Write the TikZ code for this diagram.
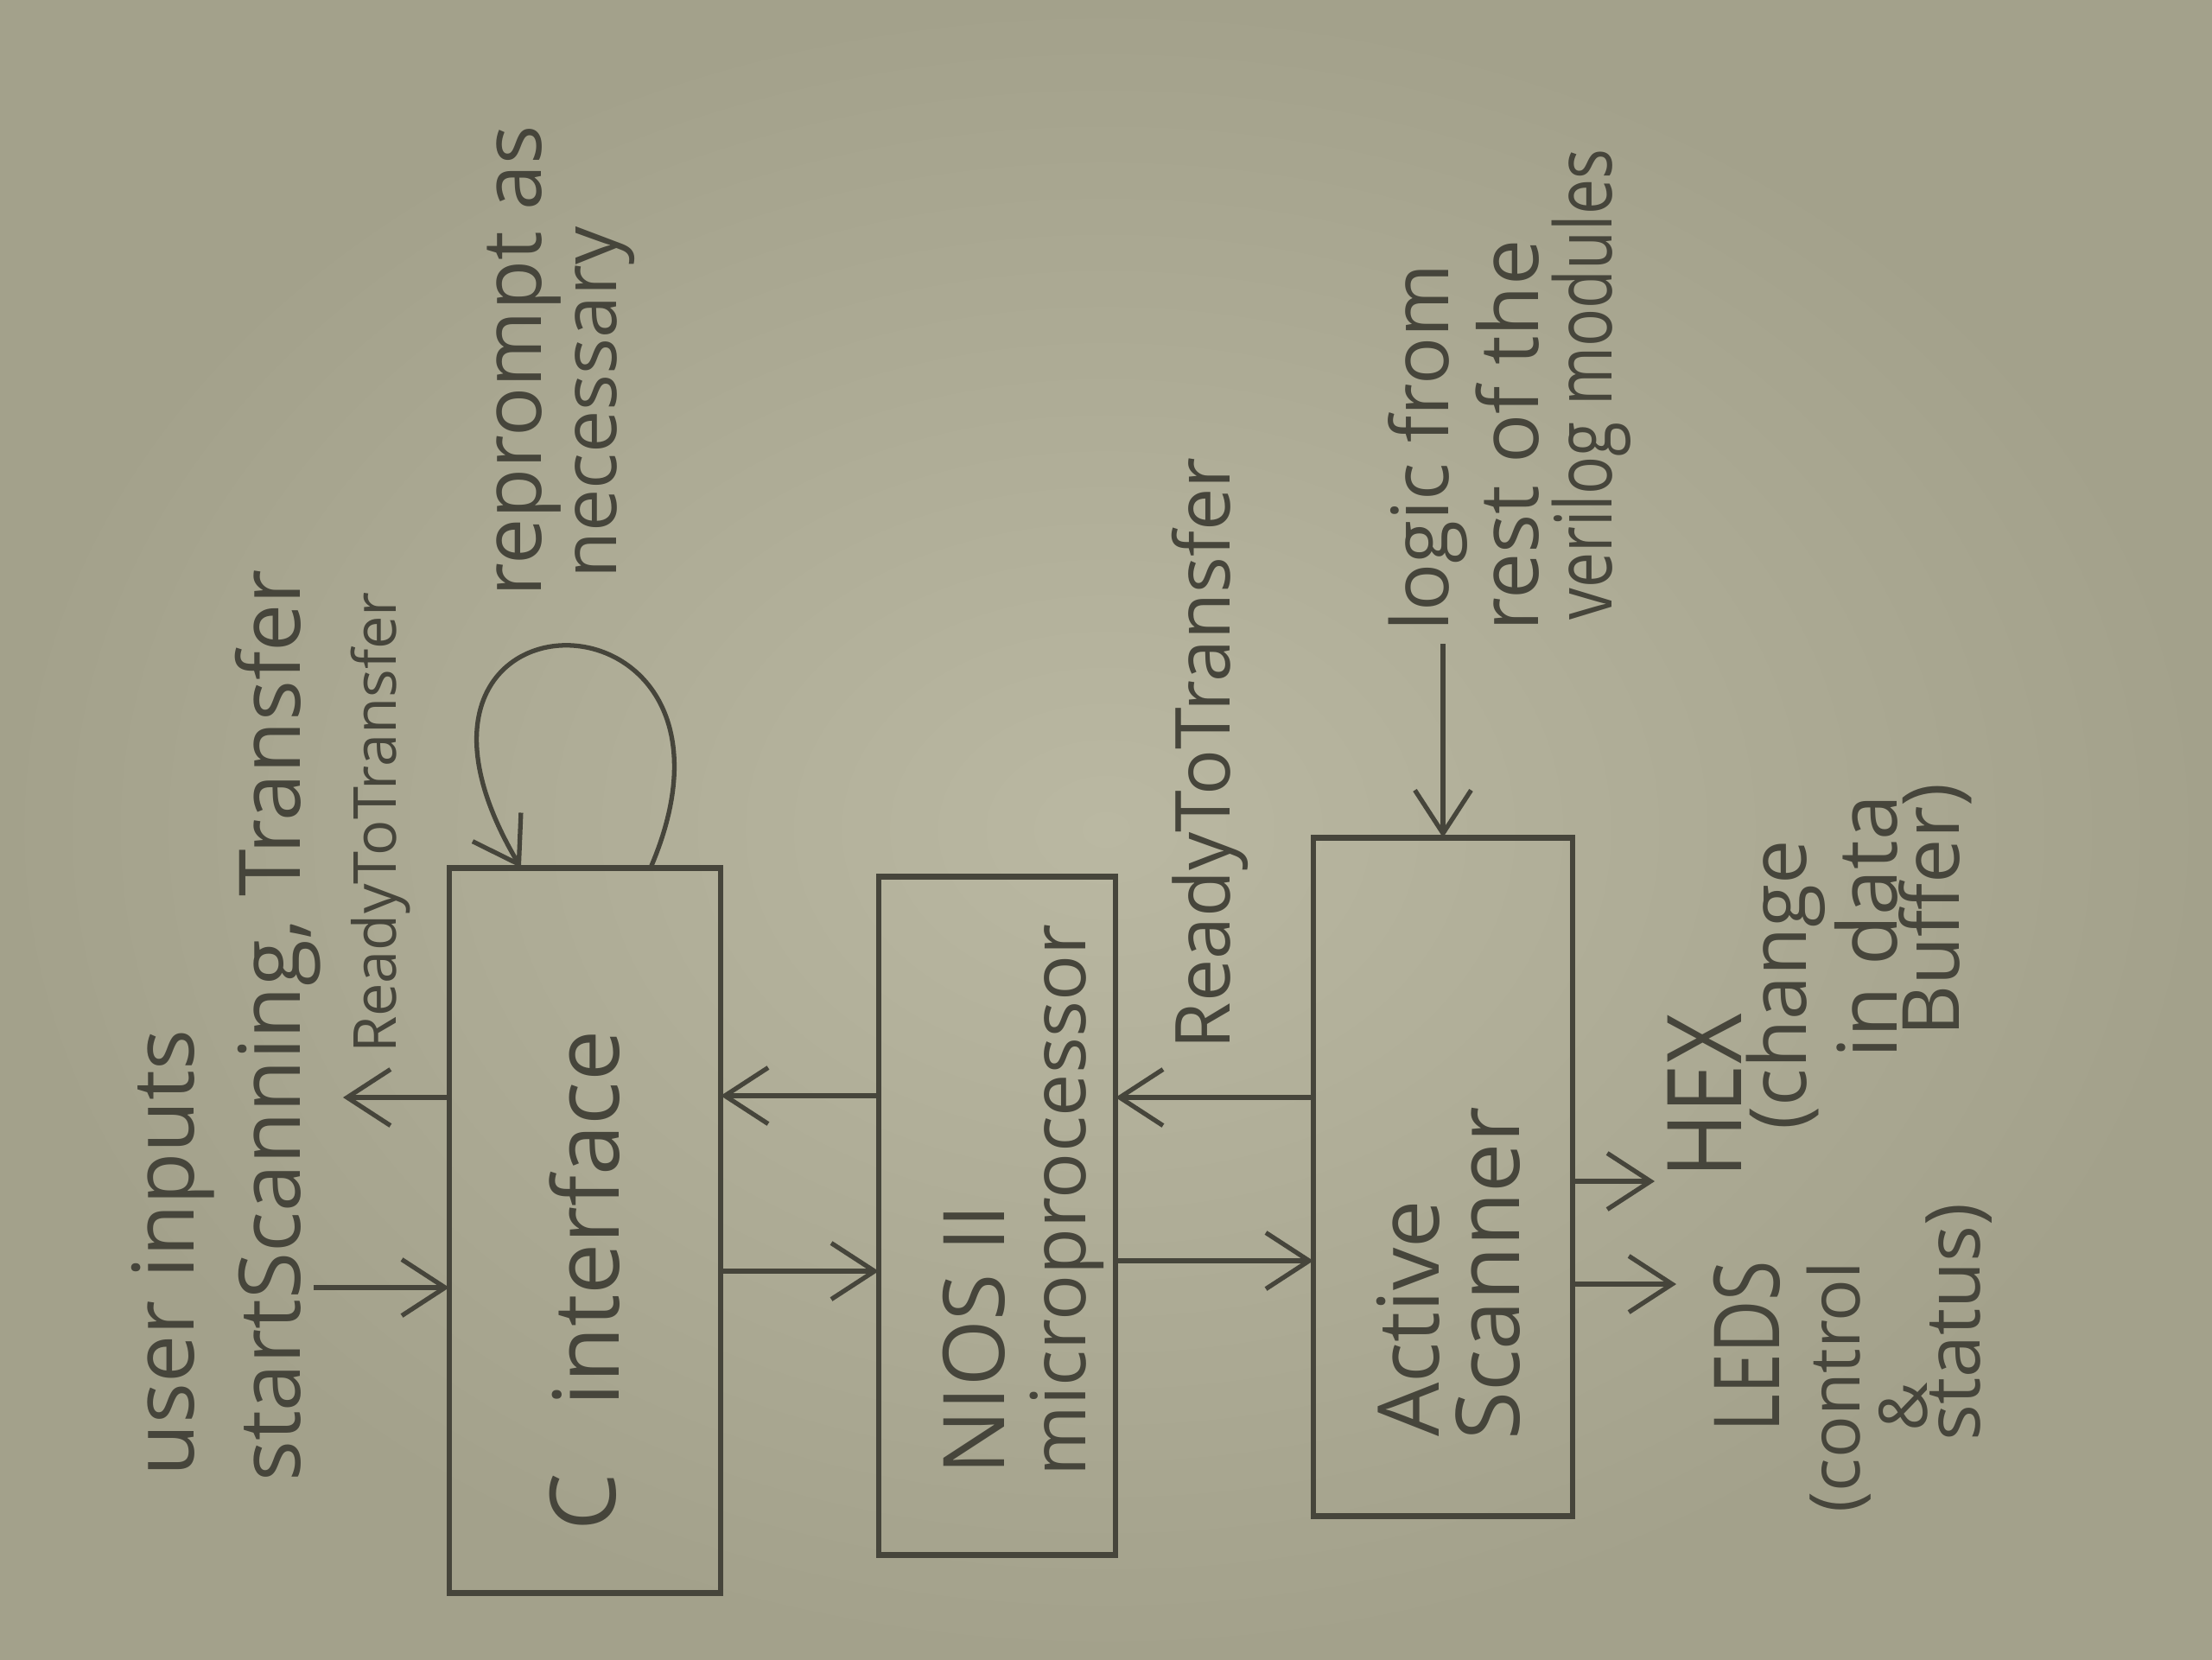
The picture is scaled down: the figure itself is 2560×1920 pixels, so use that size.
\documentclass[tikz,border=0pt]{standalone}
\usepackage{fontspec}
\setmainfont{Open Sans}
\usetikzlibrary{arrows.meta,calc}
\definecolor{pencil}{HTML}{46453B}
\definecolor{paperin}{HTML}{BAB8A2}
\definecolor{paperout}{HTML}{A3A18B}
\newcommand\hfs[1]{\fontsize{#1}{#1}\selectfont}
\begin{document}
\begin{tikzpicture}[x=0.01cm,y=-0.01cm,
  box/.style={draw=pencil, line width=1.9pt, inner sep=0pt, outer sep=0pt},
  lbl/.style={text=pencil, rotate=90, inner sep=0pt},
  wire/.style={draw=pencil, line width=1.5pt, -{Straight Barb[length=5mm,width=6.5mm]}}]
\useasboundingbox (0,0) rectangle (2560,1920);
\shade[inner color=paperin, outer color=paperout] (0,0) rectangle (2560,1920);

% boxes
\node[box, minimum width=3.14cm, minimum height=8.39cm] (cif) at (677,1424) {};
\node[box, minimum width=2.74cm, minimum height=7.85cm] (nios) at (1154,1407) {};
\node[box, minimum width=3.00cm, minimum height=7.85cm] (act) at (1670,1362) {};

% box texts
\node[lbl, font=\hfs{30}] (tc) at (675,1738) {C};
\node[lbl, font=\hfs{30}] (tif) at (677,1410) {interface};
\node[lbl, font=\hfs{28}] (tnios) at (1127,1550) {NIOS II};
\node[lbl, font=\hfs{25}] (tmicro) at (1235,1389) {microprocessor};
\node[lbl, font=\hfs{28}] (tact) at (1630,1526) {Active};
\node[lbl, font=\hfs{29}] (tscan) at (1722,1474) {Scanner};

% outside texts
\node[lbl, font=\hfs{28}] (tuser) at (200,1450) {user inputs};
\node[lbl, font=\hfs{28}] (tstart) at (322,1187) {startScanning, Transfer};
\node[lbl, font=\hfs{19.5}] (trtt1) at (440,952) {ReadyToTransfer};
\node[lbl, font=\hfs{27}] (trep) at (607,418) {reprompt as};
\node[lbl, font=\hfs{25}] (tnec) at (700,466) {necessary};
\node[lbl, font=\hfs{25}] (trtt2) at (1400,872) {ReadyToTransfer};
\node[lbl, font=\hfs{26}] (tlog) at (1652,518) {logic from};
\node[lbl, font=\hfs{27}] (trest) at (1745,504) {rest of the};
\node[lbl, font=\hfs{26}] (tver) at (1842,445) {\scalebox{0.8}[1]{verilog modules}};
\node[lbl, font=\hfs{30}] (tleds) at (2022,1558) {\scalebox{0.8}[1]{LEDS}};
\node[lbl, font=\hfs{23}] (tctl) at (2128,1605) {(control};
\node[lbl, font=\hfs{22}] (tamp) at (2203,1628) {\&};
\node[lbl, font=\hfs{25}] (tstat) at (2267,1530) {status)};
\node[lbl, font=\hfs{34}] (thex) at (1973,1268) {\scalebox{0.85}[1]{HEX}};
\node[lbl, font=\hfs{26}] (tchg) at (2067,1140) {(change};
\node[lbl, font=\hfs{27}] (tdata) at (2160,1072) {in data};
\node[lbl, font=\hfs{26}] (tbuf) at (2240,1053) {Buffer)};

% connectors
\coordinate (uin) at (363,1490);
\draw[wire] (uin) -- (cif.west |- uin);
\coordinate (rtt1) at (397,1270);
\draw[wire] (cif.west |- rtt1) -- (rtt1);
\draw[wire] ($(cif.north west)+(233,0)$) .. controls (900,662) and (400,662) .. ($(cif.north west)+(83,0)$);
\coordinate (ya) at (0,1471);
\draw[wire] (cif.east |- ya) -- (nios.west |- ya);
\coordinate (yb) at (0,1268);
\draw[wire] (nios.west |- yb) -- (cif.east |- yb);
\coordinate (yc) at (0,1459);
\draw[wire] (nios.east |- yc) -- (act.west |- yc);
\coordinate (yd) at (0,1270);
\draw[wire] (act.west |- yd) -- (nios.east |- yd);
\coordinate (logic) at (1670,745);
\draw[wire] (logic) -- (act.north -| logic);
\coordinate (leds) at (1940,1486);
\draw[wire] (act.east |- leds) -- (leds);
\coordinate (hex) at (1915,1367);
\draw[wire] (act.east |- hex) -- (hex);
\end{tikzpicture}
\end{document}
